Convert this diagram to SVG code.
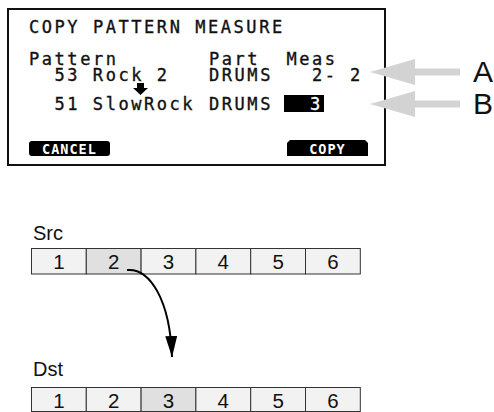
<svg xmlns="http://www.w3.org/2000/svg" width="494" height="412" viewBox="0 0 494 412">
<defs>
<style>
.lcd{font-family:"DejaVu Sans Mono","Liberation Mono",monospace;font-size:17px;letter-spacing:2.55px;fill:#111;stroke:#111;stroke-width:0.35px}
.btn{font-family:"DejaVu Sans Mono","Liberation Mono",monospace;font-size:13.5px;font-weight:bold;fill:#fff;letter-spacing:1px}
.cell{fill:#f2f2f2;stroke:#333;stroke-width:1}
.hi{fill:#e0e0e0}
.num{font-family:"Liberation Sans",Arial,sans-serif;font-size:20.5px;fill:#111;text-anchor:middle}
.lbl{font-family:"Liberation Sans",Arial,sans-serif;font-size:20px;fill:#111}
.big{font-family:"Liberation Sans",Arial,sans-serif;font-size:30px;fill:#111}
.garrow{fill:#d3d3d3}
</style>
<marker id="ah" viewBox="0 0 21 12" refX="21" refY="6" markerWidth="21" markerHeight="12" markerUnits="userSpaceOnUse" orient="auto">
<polygon points="0,0 21,6 0,12" fill="#000"/>
</marker>
</defs>
<rect width="494" height="412" fill="#fff"/>

<g id="lcd">
<rect x="8" y="9" width="377" height="156" fill="#fff" stroke="#111" stroke-width="2"/>
<text class="lcd" x="29" y="33">COPY PATTERN MEASURE</text>
<text class="lcd" x="29" y="65">Pattern</text>
<text class="lcd" x="209" y="65">Part</text>
<text class="lcd" x="286.5" y="65">Meas</text>
<text class="lcd" x="54.5" y="81">53 Rock 2</text>
<text class="lcd" x="209" y="81">DRUMS</text>
<text class="lcd" x="312" y="81">2-</text>
<text class="lcd" x="350" y="81">2</text>
<polygon points="137,83 144,83 144,88 148,88 140.5,95 133,88 137,88" fill="#000"/>
<text class="lcd" x="54.5" y="110">51 SlowRock</text>
<text class="lcd" x="209" y="110">DRUMS</text>
<rect x="284" y="95" width="40" height="17" fill="#000"/>
<text class="lcd" x="310" y="110" style="fill:#fff;stroke:#fff">3</text>
<rect x="29" y="141" width="81" height="15" rx="3" fill="#000"/>
<text class="btn" x="69.5" y="153.5" text-anchor="middle">CANCEL</text>
<path d="M287,156 L287,143 L290,140 L365,140 L368,143 L368,156 Z" fill="#000"/>
<text class="btn" x="327.5" y="153.5" text-anchor="middle">COPY</text>
</g>

<g id="arrowA">
<polygon class="garrow" points="370,72 415,59 415,68.5 460,68.5 460,75.5 415,75.5 415,85"/>
<text class="big" x="473" y="82">A</text>
</g>
<g id="arrowB">
<polygon class="garrow" points="370,104 415,91 415,100.5 460,100.5 460,107.5 415,107.5 415,117"/>
<text class="big" x="473" y="114">B</text>
</g>

<g id="src">
<text class="lbl" x="33" y="240">Src</text>
<rect class="cell" x="31.5" y="248.5" width="54.8" height="25.5"/>
<rect class="cell hi" x="86.3" y="248.5" width="54.8" height="25.5"/>
<rect class="cell" x="141.1" y="248.5" width="54.8" height="25.5"/>
<rect class="cell" x="195.9" y="248.5" width="54.8" height="25.5"/>
<rect class="cell" x="250.7" y="248.5" width="54.8" height="25.5"/>
<rect class="cell" x="305.5" y="248.5" width="54.8" height="25.5"/>
<text class="num" x="58.9" y="269">1</text>
<text class="num" x="113.7" y="269">2</text>
<text class="num" x="168.5" y="269">3</text>
<text class="num" x="223.3" y="269">4</text>
<text class="num" x="278.1" y="269">5</text>
<text class="num" x="332.9" y="269">6</text>
</g>

<g id="dst">
<text class="lbl" x="33" y="376">Dst</text>
<rect class="cell" x="31.5" y="387.5" width="54.8" height="24"/>
<rect class="cell" x="86.3" y="387.5" width="54.8" height="24"/>
<rect class="cell hi" x="141.1" y="387.5" width="54.8" height="24"/>
<rect class="cell" x="195.9" y="387.5" width="54.8" height="24"/>
<rect class="cell" x="250.7" y="387.5" width="54.8" height="24"/>
<rect class="cell" x="305.5" y="387.5" width="54.8" height="24"/>
<text class="num" x="58.9" y="408">1</text>
<text class="num" x="113.7" y="408">2</text>
<text class="num" x="168.5" y="408">3</text>
<text class="num" x="223.3" y="408">4</text>
<text class="num" x="278.1" y="408">5</text>
<text class="num" x="332.9" y="408">6</text>
</g>

<g id="connectors">
<path d="M127,270 C150,268 170,300 172,357" fill="none" stroke="#000" stroke-width="2" marker-end="url(#ah)"/>
</g>
</svg>
